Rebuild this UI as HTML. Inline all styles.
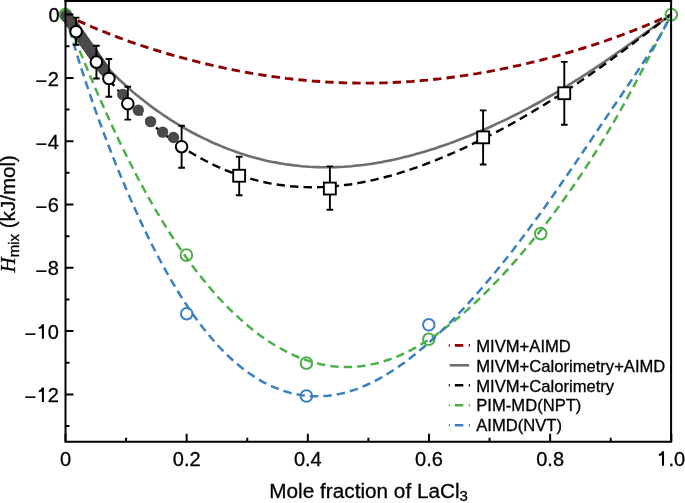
<!DOCTYPE html>
<html><head><meta charset="utf-8"><style>
html,body{margin:0;padding:0;background:#fff;width:685px;height:503px;overflow:hidden}
svg{display:block}
text{filter:grayscale(1);stroke:#000;stroke-width:0.3px}
.t{font-family:"Liberation Sans",sans-serif;font-size:20px;fill:#000}
.lg{font-family:"Liberation Sans",sans-serif;font-size:16.6px;fill:#000}
</style></head><body>
<svg width="685" height="503" viewBox="0 0 685 503">
<path d="M65.5,14.6 L69.3,16.5 L73.1,18.3 L76.9,20.1 L80.7,21.9 L84.6,23.6 L88.4,25.3 L92.2,27.0 L96.0,28.6 L99.8,30.2 L103.6,31.7 L107.4,33.2 L111.2,34.7 L115.0,36.2 L118.8,37.6 L122.7,39.0 L126.5,40.4 L130.3,41.8 L134.1,43.1 L137.9,44.4 L141.7,45.7 L145.5,46.9 L149.3,48.1 L153.1,49.4 L156.9,50.5 L160.8,51.7 L164.6,52.8 L168.4,54.0 L172.2,55.1 L176.0,56.1 L179.8,57.2 L183.6,58.2 L187.4,59.2 L191.2,60.2 L195.0,61.2 L198.9,62.2 L202.7,63.1 L206.5,64.0 L210.3,64.9 L214.1,65.8 L217.9,66.6 L221.7,67.4 L225.5,68.3 L229.3,69.0 L233.1,69.8 L237.0,70.6 L240.8,71.3 L244.6,72.0 L248.4,72.7 L252.2,73.4 L256.0,74.0 L259.8,74.6 L263.6,75.2 L267.4,75.8 L271.2,76.4 L275.1,76.9 L278.9,77.4 L282.7,77.9 L286.5,78.4 L290.3,78.8 L294.1,79.3 L297.9,79.7 L301.7,80.0 L305.5,80.4 L309.3,80.7 L313.2,81.1 L317.0,81.3 L320.8,81.6 L324.6,81.9 L328.4,82.1 L332.2,82.3 L336.0,82.5 L339.8,82.6 L343.6,82.8 L347.4,82.9 L351.3,83.0 L355.1,83.0 L358.9,83.1 L362.7,83.1 L366.5,83.1 L370.3,83.1 L374.1,83.0 L377.9,83.0 L381.7,82.9 L385.5,82.8 L389.4,82.6 L393.2,82.5 L397.0,82.3 L400.8,82.1 L404.6,81.9 L408.4,81.6 L412.2,81.4 L416.0,81.1 L419.8,80.8 L423.6,80.4 L427.5,80.1 L431.3,79.7 L435.1,79.3 L438.9,78.9 L442.7,78.4 L446.5,78.0 L450.3,77.5 L454.1,77.0 L457.9,76.5 L461.7,75.9 L465.6,75.4 L469.4,74.8 L473.2,74.2 L477.0,73.6 L480.8,72.9 L484.6,72.2 L488.4,71.6 L492.2,70.9 L496.0,70.1 L499.8,69.4 L503.7,68.6 L507.5,67.8 L511.3,67.0 L515.1,66.2 L518.9,65.4 L522.7,64.5 L526.5,63.6 L530.3,62.7 L534.1,61.8 L537.9,60.9 L541.8,59.9 L545.6,58.9 L549.4,57.9 L553.2,56.9 L557.0,55.9 L560.8,54.8 L564.6,53.7 L568.4,52.6 L572.2,51.5 L576.0,50.4 L579.9,49.2 L583.7,48.0 L587.5,46.8 L591.3,45.6 L595.1,44.3 L598.9,43.1 L602.7,41.8 L606.5,40.5 L610.3,39.1 L614.1,37.8 L618.0,36.4 L621.8,35.0 L625.6,33.6 L629.4,32.1 L633.2,30.7 L637.0,29.2 L640.8,27.7 L644.6,26.1 L648.4,24.5 L652.2,23.0 L656.1,21.3 L659.9,19.7 L663.7,18.0 L667.5,16.3 L671.3,14.6" fill="none" stroke="#8c0000" stroke-width="2.9" stroke-dasharray="8.4 5.1"/>
<path d="M65.5,14.6 L69.3,20.3 L73.1,25.9 L76.9,31.2 L80.7,36.3 L84.6,41.3 L88.4,46.1 L92.2,50.7 L96.0,55.2 L99.8,59.5 L103.6,63.7 L107.4,67.8 L111.2,71.7 L115.0,75.5 L118.8,79.2 L122.7,82.8 L126.5,86.2 L130.3,89.6 L134.1,92.9 L137.9,96.0 L141.7,99.1 L145.5,102.1 L149.3,105.0 L153.1,107.9 L156.9,110.6 L160.8,113.3 L164.6,115.9 L168.4,118.4 L172.2,120.8 L176.0,123.2 L179.8,125.5 L183.6,127.7 L187.4,129.9 L191.2,132.0 L195.0,134.0 L198.9,136.0 L202.7,137.9 L206.5,139.7 L210.3,141.5 L214.1,143.2 L217.9,144.8 L221.7,146.4 L225.5,148.0 L229.3,149.4 L233.1,150.8 L237.0,152.2 L240.8,153.5 L244.6,154.7 L248.4,155.9 L252.2,157.0 L256.0,158.0 L259.8,159.0 L263.6,160.0 L267.4,160.9 L271.2,161.7 L275.1,162.4 L278.9,163.1 L282.7,163.8 L286.5,164.4 L290.3,164.9 L294.1,165.4 L297.9,165.8 L301.7,166.2 L305.5,166.5 L309.3,166.8 L313.2,167.0 L317.0,167.1 L320.8,167.2 L324.6,167.3 L328.4,167.3 L332.2,167.2 L336.0,167.1 L339.8,167.0 L343.6,166.8 L347.4,166.5 L351.3,166.2 L355.1,165.8 L358.9,165.4 L362.7,165.0 L366.5,164.5 L370.3,164.0 L374.1,163.4 L377.9,162.7 L381.7,162.1 L385.5,161.3 L389.4,160.6 L393.2,159.8 L397.0,158.9 L400.8,158.1 L404.6,157.1 L408.4,156.2 L412.2,155.2 L416.0,154.1 L419.8,153.0 L423.6,151.9 L427.5,150.8 L431.3,149.6 L435.1,148.4 L438.9,147.1 L442.7,145.8 L446.5,144.5 L450.3,143.1 L454.1,141.7 L457.9,140.3 L461.7,138.8 L465.6,137.3 L469.4,135.8 L473.2,134.2 L477.0,132.6 L480.8,131.0 L484.6,129.4 L488.4,127.7 L492.2,126.0 L496.0,124.2 L499.8,122.4 L503.7,120.6 L507.5,118.8 L511.3,116.9 L515.1,115.0 L518.9,113.1 L522.7,111.1 L526.5,109.1 L530.3,107.1 L534.1,105.0 L537.9,103.0 L541.8,100.8 L545.6,98.7 L549.4,96.5 L553.2,94.3 L557.0,92.1 L560.8,89.8 L564.6,87.5 L568.4,85.2 L572.2,82.8 L576.0,80.4 L579.9,78.0 L583.7,75.6 L587.5,73.1 L591.3,70.6 L595.1,68.1 L598.9,65.5 L602.7,63.0 L606.5,60.4 L610.3,57.7 L614.1,55.1 L618.0,52.4 L621.8,49.8 L625.6,47.1 L629.4,44.4 L633.2,41.7 L637.0,38.9 L640.8,36.2 L644.6,33.5 L648.4,30.7 L652.2,28.0 L656.1,25.3 L659.9,22.6 L663.7,19.9 L667.5,17.2 L671.3,14.6" fill="none" stroke="#6e6e6e" stroke-width="2.6"/>
<path d="M65.5,14.6 L69.3,21.3 L73.1,27.8 L76.9,34.1 L80.7,40.2 L84.6,46.0 L88.4,51.7 L92.2,57.2 L96.0,62.5 L99.8,67.7 L103.6,72.7 L107.4,77.5 L111.2,82.2 L115.0,86.8 L118.8,91.2 L122.7,95.4 L126.5,99.6 L130.3,103.6 L134.1,107.4 L137.9,111.2 L141.7,114.8 L145.5,118.4 L149.3,121.8 L153.1,125.1 L156.9,128.3 L160.8,131.4 L164.6,134.4 L168.4,137.3 L172.2,140.1 L176.0,142.8 L179.8,145.4 L183.6,148.0 L187.4,150.4 L191.2,152.8 L195.0,155.0 L198.9,157.2 L202.7,159.3 L206.5,161.3 L210.3,163.2 L214.1,165.1 L217.9,166.8 L221.7,168.5 L225.5,170.1 L229.3,171.6 L233.1,173.1 L237.0,174.5 L240.8,175.8 L244.6,177.0 L248.4,178.2 L252.2,179.2 L256.0,180.2 L259.8,181.2 L263.6,182.0 L267.4,182.8 L271.2,183.6 L275.1,184.2 L278.9,184.8 L282.7,185.3 L286.5,185.8 L290.3,186.2 L294.1,186.5 L297.9,186.8 L301.7,187.0 L305.5,187.1 L309.3,187.2 L313.2,187.2 L317.0,187.2 L320.8,187.1 L324.6,186.9 L328.4,186.7 L332.2,186.4 L336.0,186.1 L339.8,185.7 L343.6,185.2 L347.4,184.7 L351.3,184.2 L355.1,183.6 L358.9,182.9 L362.7,182.2 L366.5,181.5 L370.3,180.7 L374.1,179.8 L377.9,178.9 L381.7,178.0 L385.5,177.0 L389.4,176.0 L393.2,174.9 L397.0,173.8 L400.8,172.6 L404.6,171.4 L408.4,170.2 L412.2,168.9 L416.0,167.6 L419.8,166.2 L423.6,164.9 L427.5,163.4 L431.3,162.0 L435.1,160.5 L438.9,158.9 L442.7,157.4 L446.5,155.8 L450.3,154.1 L454.1,152.5 L457.9,150.8 L461.7,149.1 L465.6,147.3 L469.4,145.5 L473.2,143.7 L477.0,141.9 L480.8,140.0 L484.6,138.1 L488.4,136.2 L492.2,134.2 L496.0,132.2 L499.8,130.2 L503.7,128.1 L507.5,126.1 L511.3,124.0 L515.1,121.9 L518.9,119.7 L522.7,117.5 L526.5,115.3 L530.3,113.1 L534.1,110.8 L537.9,108.5 L541.8,106.2 L545.6,103.9 L549.4,101.5 L553.2,99.1 L557.0,96.7 L560.8,94.2 L564.6,91.8 L568.4,89.3 L572.2,86.8 L576.0,84.2 L579.9,81.6 L583.7,79.0 L587.5,76.4 L591.3,73.8 L595.1,71.1 L598.9,68.4 L602.7,65.7 L606.5,62.9 L610.3,60.2 L614.1,57.4 L618.0,54.6 L621.8,51.8 L625.6,49.0 L629.4,46.1 L633.2,43.3 L637.0,40.4 L640.8,37.5 L644.6,34.7 L648.4,31.8 L652.2,28.9 L656.1,26.0 L659.9,23.1 L663.7,20.3 L667.5,17.4 L671.3,14.6" fill="none" stroke="#000" stroke-width="2.4" stroke-dasharray="8.4 5.1" stroke-dashoffset="2.9"/>
<path d="M65.5,14.6 L69.3,24.5 L73.1,34.2 L76.9,43.8 L80.7,53.2 L84.6,62.6 L88.4,71.8 L92.2,80.8 L96.0,89.7 L99.8,98.5 L103.6,107.1 L107.4,115.6 L111.2,123.9 L115.0,132.1 L118.8,140.1 L122.7,148.0 L126.5,155.8 L130.3,163.3 L134.1,170.8 L137.9,178.0 L141.7,185.2 L145.5,192.1 L149.3,198.9 L153.1,205.6 L156.9,212.1 L160.8,218.5 L164.6,224.7 L168.4,230.8 L172.2,236.7 L176.0,242.5 L179.8,248.1 L183.6,253.6 L187.4,259.0 L191.2,264.2 L195.0,269.3 L198.9,274.2 L202.7,279.0 L206.5,283.7 L210.3,288.2 L214.1,292.6 L217.9,296.8 L221.7,301.0 L225.5,304.9 L229.3,308.8 L233.1,312.5 L237.0,316.2 L240.8,319.6 L244.6,323.0 L248.4,326.2 L252.2,329.3 L256.0,332.3 L259.8,335.2 L263.6,337.9 L267.4,340.5 L271.2,343.0 L275.1,345.4 L278.9,347.6 L282.7,349.7 L286.5,351.7 L290.3,353.6 L294.1,355.3 L297.9,357.0 L301.7,358.5 L305.5,359.9 L309.3,361.1 L313.2,362.3 L317.0,363.3 L320.8,364.2 L324.6,365.0 L328.4,365.6 L332.2,366.2 L336.0,366.6 L339.8,366.9 L343.6,367.0 L347.4,367.1 L351.3,367.0 L355.1,366.8 L358.9,366.4 L362.7,366.0 L366.5,365.4 L370.3,364.7 L374.1,363.9 L377.9,363.0 L381.7,362.0 L385.5,360.8 L389.4,359.5 L393.2,358.1 L397.0,356.6 L400.8,355.0 L404.6,353.2 L408.4,351.4 L412.2,349.4 L416.0,347.4 L419.8,345.2 L423.6,342.9 L427.5,340.5 L431.3,338.0 L435.1,335.5 L438.9,332.8 L442.7,330.0 L446.5,327.1 L450.3,324.2 L454.1,321.1 L457.9,318.0 L461.7,314.7 L465.6,311.4 L469.4,308.0 L473.2,304.5 L477.0,301.0 L480.8,297.3 L484.6,293.6 L488.4,289.8 L492.2,285.9 L496.0,282.0 L499.8,278.0 L503.7,273.9 L507.5,269.7 L511.3,265.5 L515.1,261.2 L518.9,256.8 L522.7,252.3 L526.5,247.8 L530.3,243.2 L534.1,238.6 L537.9,233.8 L541.8,229.0 L545.6,224.1 L549.4,219.2 L553.2,214.1 L557.0,209.0 L560.8,203.8 L564.6,198.5 L568.4,193.1 L572.2,187.7 L576.0,182.1 L579.9,176.5 L583.7,170.8 L587.5,164.9 L591.3,159.0 L595.1,153.0 L598.9,146.8 L602.7,140.6 L606.5,134.3 L610.3,127.8 L614.1,121.3 L618.0,114.7 L621.8,107.9 L625.6,101.1 L629.4,94.2 L633.2,87.2 L637.0,80.1 L640.8,72.9 L644.6,65.7 L648.4,58.4 L652.2,51.1 L656.1,43.7 L659.9,36.4 L663.7,29.1 L667.5,21.8 L671.3,14.6" fill="none" stroke="#4daf4a" stroke-width="2.5" stroke-dasharray="8.4 5.1" stroke-dashoffset="2.0"/>
<circle cx="65.5" cy="14.6" r="5.8" fill="none" stroke="#4daf4a" stroke-width="2"/>
<circle cx="186.4" cy="255.1" r="5.8" fill="none" stroke="#4daf4a" stroke-width="2"/>
<circle cx="306.4" cy="363.1" r="5.8" fill="none" stroke="#4daf4a" stroke-width="2"/>
<circle cx="428.8" cy="339.3" r="5.8" fill="none" stroke="#4daf4a" stroke-width="2"/>
<circle cx="540.7" cy="233.6" r="5.8" fill="none" stroke="#4daf4a" stroke-width="2"/>
<circle cx="671.3" cy="14.6" r="5.8" fill="none" stroke="#4daf4a" stroke-width="2"/>
<path d="M65.5,14.6 L69.3,28.4 L73.1,41.6 L76.9,54.3 L80.7,66.6 L84.6,78.4 L88.4,89.9 L92.2,101.0 L96.0,111.8 L99.8,122.4 L103.6,132.7 L107.4,142.7 L111.2,152.5 L115.0,162.1 L118.8,171.5 L122.7,180.7 L126.5,189.7 L130.3,198.5 L134.1,207.0 L137.9,215.4 L141.7,223.6 L145.5,231.6 L149.3,239.4 L153.1,247.0 L156.9,254.4 L160.8,261.6 L164.6,268.6 L168.4,275.4 L172.2,281.9 L176.0,288.3 L179.8,294.5 L183.6,300.5 L187.4,306.3 L191.2,311.9 L195.0,317.3 L198.9,322.4 L202.7,327.4 L206.5,332.2 L210.3,336.8 L214.1,341.2 L217.9,345.5 L221.7,349.5 L225.5,353.3 L229.3,357.0 L233.1,360.5 L237.0,363.8 L240.8,367.0 L244.6,369.9 L248.4,372.7 L252.2,375.3 L256.0,377.8 L259.8,380.1 L263.6,382.3 L267.4,384.2 L271.2,386.1 L275.1,387.7 L278.9,389.2 L282.7,390.6 L286.5,391.8 L290.3,392.9 L294.1,393.8 L297.9,394.6 L301.7,395.2 L305.5,395.7 L309.3,396.1 L313.2,396.3 L317.0,396.3 L320.8,396.2 L324.6,396.0 L328.4,395.7 L332.2,395.2 L336.0,394.6 L339.8,393.9 L343.6,393.0 L347.4,392.0 L351.3,390.8 L355.1,389.6 L358.9,388.2 L362.7,386.7 L366.5,385.0 L370.3,383.3 L374.1,381.4 L377.9,379.4 L381.7,377.3 L385.5,375.1 L389.4,372.8 L393.2,370.3 L397.0,367.8 L400.8,365.1 L404.6,362.4 L408.4,359.5 L412.2,356.6 L416.0,353.6 L419.8,350.4 L423.6,347.2 L427.5,343.9 L431.3,340.5 L435.1,337.0 L438.9,333.4 L442.7,329.8 L446.5,326.1 L450.3,322.3 L454.1,318.4 L457.9,314.4 L461.7,310.4 L465.6,306.3 L469.4,302.2 L473.2,297.9 L477.0,293.6 L480.8,289.3 L484.6,284.8 L488.4,280.4 L492.2,275.8 L496.0,271.2 L499.8,266.5 L503.7,261.8 L507.5,257.0 L511.3,252.2 L515.1,247.3 L518.9,242.3 L522.7,237.3 L526.5,232.2 L530.3,227.1 L534.1,221.9 L537.9,216.7 L541.8,211.4 L545.6,206.1 L549.4,200.7 L553.2,195.3 L557.0,189.8 L560.8,184.3 L564.6,178.8 L568.4,173.3 L572.2,167.7 L576.0,162.1 L579.9,156.5 L583.7,150.8 L587.5,145.2 L591.3,139.6 L595.1,133.9 L598.9,128.3 L602.7,122.6 L606.5,117.0 L610.3,111.3 L614.1,105.7 L618.0,100.1 L621.8,94.5 L625.6,88.9 L629.4,83.3 L633.2,77.6 L637.0,72.0 L640.8,66.3 L644.6,60.5 L648.4,54.6 L652.2,48.5 L656.1,42.3 L659.9,35.9 L663.7,29.2 L667.5,22.1 L671.3,14.6" fill="none" stroke="#3a7fc0" stroke-width="2.5" stroke-dasharray="8.4 5.1" stroke-dashoffset="-2.1"/>
<circle cx="186.7" cy="313.7" r="5.8" fill="none" stroke="#3a7fc0" stroke-width="2"/>
<circle cx="306.4" cy="396.0" r="5.8" fill="none" stroke="#3a7fc0" stroke-width="2"/>
<circle cx="428.8" cy="324.8" r="5.8" fill="none" stroke="#3a7fc0" stroke-width="2"/>
<circle cx="66.0" cy="15.5" r="5.7" fill="#4a4a4a"/>
<circle cx="67.0" cy="16.9" r="5.7" fill="#4a4a4a"/>
<circle cx="68.0" cy="18.3" r="5.7" fill="#4a4a4a"/>
<circle cx="69.0" cy="19.8" r="5.7" fill="#4a4a4a"/>
<circle cx="70.0" cy="21.2" r="5.7" fill="#4a4a4a"/>
<circle cx="71.0" cy="22.6" r="5.7" fill="#4a4a4a"/>
<circle cx="72.0" cy="24.0" r="5.7" fill="#4a4a4a"/>
<circle cx="73.0" cy="25.5" r="5.7" fill="#4a4a4a"/>
<circle cx="74.0" cy="26.9" r="5.7" fill="#4a4a4a"/>
<circle cx="75.0" cy="28.3" r="5.7" fill="#4a4a4a"/>
<circle cx="76.0" cy="29.7" r="5.7" fill="#4a4a4a"/>
<circle cx="77.0" cy="31.2" r="5.7" fill="#4a4a4a"/>
<circle cx="78.0" cy="32.6" r="5.7" fill="#4a4a4a"/>
<circle cx="79.0" cy="34.0" r="5.7" fill="#4a4a4a"/>
<circle cx="80.0" cy="35.4" r="5.7" fill="#4a4a4a"/>
<circle cx="81.0" cy="36.8" r="5.7" fill="#4a4a4a"/>
<circle cx="82.0" cy="38.3" r="5.7" fill="#4a4a4a"/>
<circle cx="83.0" cy="39.7" r="5.7" fill="#4a4a4a"/>
<circle cx="84.0" cy="41.1" r="5.7" fill="#4a4a4a"/>
<circle cx="85.0" cy="42.5" r="5.7" fill="#4a4a4a"/>
<circle cx="86.0" cy="44.0" r="5.7" fill="#4a4a4a"/>
<circle cx="87.0" cy="45.4" r="5.7" fill="#4a4a4a"/>
<circle cx="88.0" cy="46.8" r="5.7" fill="#4a4a4a"/>
<circle cx="89.0" cy="48.2" r="5.7" fill="#4a4a4a"/>
<circle cx="90.0" cy="49.7" r="5.7" fill="#4a4a4a"/>
<circle cx="91.0" cy="51.1" r="5.7" fill="#4a4a4a"/>
<circle cx="92.0" cy="52.5" r="5.7" fill="#4a4a4a"/>
<circle cx="93.0" cy="53.9" r="5.7" fill="#4a4a4a"/>
<circle cx="94.0" cy="55.3" r="5.7" fill="#4a4a4a"/>
<circle cx="95.0" cy="56.8" r="5.7" fill="#4a4a4a"/>
<circle cx="96.0" cy="58.2" r="5.7" fill="#4a4a4a"/>
<circle cx="97.0" cy="59.6" r="5.7" fill="#4a4a4a"/>
<circle cx="98.0" cy="61.0" r="5.7" fill="#4a4a4a"/>
<circle cx="99.0" cy="62.5" r="5.7" fill="#4a4a4a"/>
<circle cx="100.0" cy="63.9" r="5.7" fill="#4a4a4a"/>
<circle cx="101.0" cy="65.3" r="5.7" fill="#4a4a4a"/>
<circle cx="102.0" cy="66.7" r="5.7" fill="#4a4a4a"/>
<circle cx="103.0" cy="68.2" r="5.7" fill="#4a4a4a"/>
<circle cx="104.0" cy="69.6" r="5.7" fill="#4a4a4a"/>
<circle cx="105.0" cy="71.0" r="5.7" fill="#4a4a4a"/>
<circle cx="122.8" cy="94.4" r="5.7" fill="#4a4a4a"/>
<circle cx="138.3" cy="110.3" r="5.7" fill="#4a4a4a"/>
<circle cx="150.6" cy="121.6" r="5.7" fill="#4a4a4a"/>
<circle cx="162.6" cy="132.1" r="5.7" fill="#4a4a4a"/>
<circle cx="173.5" cy="137.5" r="5.7" fill="#4a4a4a"/>
<path d="M76.1,17.6V44.9M72.8,17.6H79.4M72.8,44.9H79.4" stroke="#000" stroke-width="1.9" fill="none"/>
<path d="M96.4,45.8V78.5M93.1,45.8H99.7M93.1,78.5H99.7" stroke="#000" stroke-width="1.9" fill="none"/>
<path d="M108.9,59.0V96.7M105.6,59.0H112.2M105.6,96.7H112.2" stroke="#000" stroke-width="1.9" fill="none"/>
<path d="M127.8,86.8V119.6M124.5,86.8H131.1M124.5,119.6H131.1" stroke="#000" stroke-width="1.9" fill="none"/>
<path d="M181.6,125.7V167.8M178.3,125.7H184.9M178.3,167.8H184.9" stroke="#000" stroke-width="1.9" fill="none"/>
<path d="M239.2,156.8V195.2M235.9,156.8H242.5M235.9,195.2H242.5" stroke="#000" stroke-width="1.9" fill="none"/>
<path d="M329.9,166.4V209.7M326.6,166.4H333.2M326.6,209.7H333.2" stroke="#000" stroke-width="1.9" fill="none"/>
<path d="M483.1,110.4V164.5M479.8,110.4H486.4M479.8,164.5H486.4" stroke="#000" stroke-width="1.9" fill="none"/>
<path d="M564.3,61.9V124.7M561.0,61.9H567.6M561.0,124.7H567.6" stroke="#000" stroke-width="1.9" fill="none"/>
<circle cx="76.1" cy="31.7" r="5.8" fill="#fff" stroke="#000" stroke-width="2"/>
<circle cx="96.4" cy="62.1" r="5.8" fill="#fff" stroke="#000" stroke-width="2"/>
<circle cx="108.9" cy="78.5" r="5.8" fill="#fff" stroke="#000" stroke-width="2"/>
<circle cx="127.8" cy="103.7" r="5.8" fill="#fff" stroke="#000" stroke-width="2"/>
<circle cx="181.6" cy="146.7" r="5.8" fill="#fff" stroke="#000" stroke-width="2"/>
<rect x="233.2" y="169.8" width="11.9" height="11.9" fill="#fff" stroke="#000" stroke-width="1.9"/>
<rect x="323.9" y="182.6" width="11.9" height="11.9" fill="#fff" stroke="#000" stroke-width="1.9"/>
<rect x="477.2" y="131.4" width="11.9" height="11.9" fill="#fff" stroke="#000" stroke-width="1.9"/>
<rect x="558.3" y="87.3" width="11.9" height="11.9" fill="#fff" stroke="#000" stroke-width="1.9"/>
<path d="M65.5,0 V441.7 H671.1 V0" fill="none" stroke="#000" stroke-width="2"/>
<path d="M64.5,1 H672.1" stroke="#000" stroke-width="2.2"/>
<path d="M65.5,14.60h8 M65.5,46.25h4 M65.5,77.90h8 M65.5,109.55h4 M65.5,141.20h8 M65.5,172.85h4 M65.5,204.50h8 M65.5,236.15h4 M65.5,267.80h8 M65.5,299.45h4 M65.5,331.10h8 M65.5,362.75h4 M65.5,394.40h8 M65.5,426.05h4 M65.50,441.7v-8 M126.08,441.7v-4 M186.66,441.7v-8 M247.24,441.7v-4 M307.82,441.7v-8 M368.40,441.7v-4 M428.98,441.7v-8 M489.56,441.7v-4 M550.14,441.7v-8 M610.72,441.7v-4 M671.30,441.7v-8" stroke="#000" stroke-width="2" fill="none"/>
<text transform="translate(59.5,22.2) scale(1,1.04)" text-anchor="end" class="t">0</text>
<text transform="translate(59.5,85.5) scale(1,1.04)" text-anchor="end" class="t"><tspan dx="-0.6" dy="2.2">−</tspan><tspan dx="0.6" dy="-2.2">2</tspan></text>
<text transform="translate(59.5,148.8) scale(1,1.04)" text-anchor="end" class="t"><tspan dx="-0.6" dy="2.2">−</tspan><tspan dx="0.6" dy="-2.2">4</tspan></text>
<text transform="translate(59.5,212.1) scale(1,1.04)" text-anchor="end" class="t"><tspan dx="-0.6" dy="2.2">−</tspan><tspan dx="0.6" dy="-2.2">6</tspan></text>
<text transform="translate(59.5,275.4) scale(1,1.04)" text-anchor="end" class="t"><tspan dx="-0.6" dy="2.2">−</tspan><tspan dx="0.6" dy="-2.2">8</tspan></text>
<text transform="translate(59.5,338.7) scale(1,1.04)" text-anchor="end" class="t"><tspan dx="-0.6" dy="2.2">−</tspan><tspan dx="0.6" dy="-2.2"><tspan style="fill:none;stroke:none">1</tspan>0</tspan></text>
<path d="M43.95,324.30L43.95,338.70L41.85,338.70L41.85,328.30L38.70,329.00L38.70,327.20Q41.30,326.60 41.85,324.30Z" fill="#000"/>
<text transform="translate(59.5,402.0) scale(1,1.04)" text-anchor="end" class="t"><tspan dx="-0.6" dy="2.2">−</tspan><tspan dx="0.6" dy="-2.2"><tspan style="fill:none;stroke:none">1</tspan>2</tspan></text>
<path d="M43.95,387.60L43.95,402.00L41.85,402.00L41.85,391.60L38.70,392.30L38.70,390.50Q41.30,389.90 41.85,387.60Z" fill="#000"/>
<text transform="translate(65.5,465.7) scale(1,1.04)" text-anchor="middle" class="t">0</text>
<text transform="translate(186.7,465.7) scale(1,1.04)" text-anchor="middle" class="t">0.2</text>
<text transform="translate(307.8,465.7) scale(1,1.04)" text-anchor="middle" class="t">0.4</text>
<text transform="translate(429.0,465.7) scale(1,1.04)" text-anchor="middle" class="t">0.6</text>
<text transform="translate(550.1,465.7) scale(1,1.04)" text-anchor="middle" class="t">0.8</text>
<text transform="translate(671.3,465.7) scale(1,1.04)" text-anchor="middle" class="t"><tspan style="fill:none;stroke:none">1</tspan>.0</text>
<path d="M664.05,451.20L664.05,465.80L661.95,465.80L661.95,455.20L658.80,455.90L658.80,454.10Q661.40,453.50 661.95,451.20Z" fill="#000"/>
<text x="269.3" y="497.5" class="t" style="font-size:20.75px">Mole fraction of LaCl<tspan dy="3.8" style="font-size:15px">3</tspan></text>
<text transform="translate(15,272.5) rotate(-90)" class="t"><tspan style="font-family:'Liberation Serif',serif;font-style:italic;font-size:21px">H</tspan><tspan dy="3.5" style="font-size:15px">mix</tspan><tspan dy="-3.5" style="font-size:20.6px"> (kJ/mol)</tspan></text>
<path d="M448.8,345.4h1M454.8,345.4h8.5M468.8,345.4h1.2" stroke="#8c0000" stroke-width="2.6"/>
<text x="476.3" y="351.6" class="lg">MIVM+AIMD</text>
<path d="M449.6,365.3H469.2" stroke="#6e6e6e" stroke-width="2.6"/>
<text x="476.3" y="371.5" class="lg">MIVM+Calorimetry+AIMD</text>
<path d="M448.8,385.3h1M454.8,385.3h8.5M468.8,385.3h1.2" stroke="#000" stroke-width="2.6"/>
<text x="476.3" y="391.5" class="lg">MIVM+Calorimetry</text>
<path d="M448.8,405.2h1M454.8,405.2h8.5M468.8,405.2h1.2" stroke="#4daf4a" stroke-width="2.6"/>
<text x="476.3" y="411.4" class="lg">PIM-MD(NPT)</text>
<path d="M448.8,425.2h1M454.8,425.2h8.5M468.8,425.2h1.2" stroke="#3a7fc0" stroke-width="2.6"/>
<text x="476.3" y="431.4" class="lg">AIMD(NVT)</text>
</svg>
</body></html>
